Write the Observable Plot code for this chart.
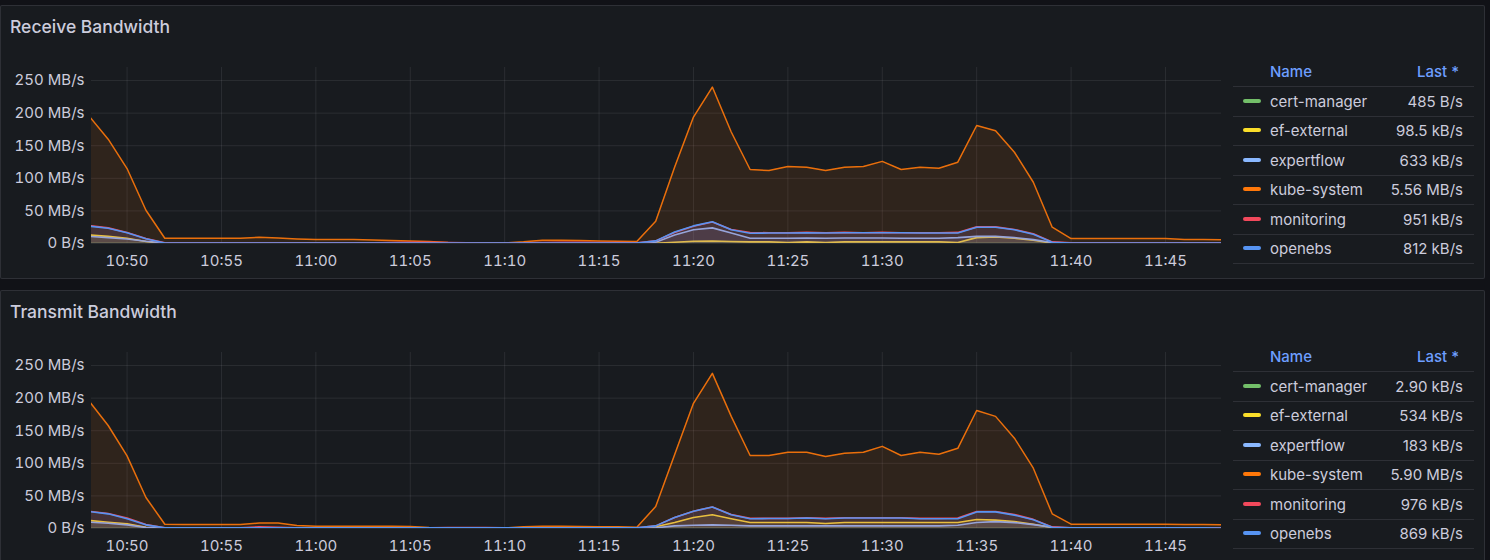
<!DOCTYPE html>
<html><head><meta charset="utf-8">
<script src="https://cdn.jsdelivr.net/npm/d3@7"></script>
<script src="https://cdn.jsdelivr.net/npm/@observablehq/plot@0.6"></script>
<style>
html,body{margin:0;padding:0;background:#111217;width:1490px;height:560px;overflow:hidden;font-family:Inter,"Noto Sans",sans-serif;color:#ccccdc}
.wrap{position:absolute;left:0;width:1490px;height:285px}
.panel{position:absolute;left:0;top:5px;width:1485px;height:274px;box-sizing:border-box;background:#181b1f;border:1px solid rgba(204,204,220,0.12);border-radius:2px}
.title{position:absolute;left:10px;top:17px;font-size:17.5px;font-weight:500;line-height:20px;white-space:nowrap;color:#ccccdc}
.chart{position:absolute;left:0;top:55px}
.chart svg{display:block}
.lg{position:absolute;font-size:15px;line-height:20px;white-space:nowrap;color:#ccccdc}
.hdr{color:#6e9fff;font-weight:500}
.sep{position:absolute;left:1233px;width:241px;height:1px;background:rgba(204,204,220,0.12)}
.chip{position:absolute;left:1243px;width:18px;height:4px;border-radius:2px}
</style></head>
<body>
<div class="wrap" id="rxWrap" style="top:0px"><div class="panel"></div><div class="title">Receive Bandwidth</div><div class="chart" id="rxChart"></div></div>
<div class="wrap" id="txWrap" style="top:285px"><div class="panel"></div><div class="title">Transmit Bandwidth</div><div class="chart" id="txChart"></div></div>
<script>
// ---- data ----
const times = ["10:48","10:49","10:50","10:51","10:52","10:53","10:54","10:55","10:56","10:57",
"10:58","10:59","11:00","11:01","11:02","11:03","11:04","11:05","11:06","11:07",
"11:08","11:09","11:10","11:11","11:12","11:13","11:14","11:15","11:16","11:17",
"11:18","11:19","11:20","11:21","11:22","11:23","11:24","11:25","11:26","11:27",
"11:28","11:29","11:30","11:31","11:32","11:33","11:34","11:35","11:36","11:37",
"11:38","11:39","11:40","11:41","11:42","11:43","11:44","11:45","11:46","11:47","11:48"];
const xTickLabels = ["10:50","10:55","11:00","11:05","11:10","11:15","11:20","11:25","11:30","11:35","11:40","11:45"];
const yTicks = [0,50,100,150,200,250];
const seriesNames = ["cert-manager","ef-external","expertflow","kube-system","monitoring","openebs"];
const seriesColors = ["#73BF69","#FADE2A","#8AB8FF","#FF780A","#F2495C","#5794F2"];

// Receive (MB/s)
const rxCert = [0.0005,0.0005,0.0005,0.0005,0.0005,0.0005,0.0005,0.0005,0.0005,0.0005,0.0005,0.0005,0.0005,0.0005,0.0005,0.0005,0.0005,0.0005,0.0005,0.0005,0.0005,0.0005,0.0005,0.0005,0.0005,0.0005,0.0005,0.0005,0.0005,0.0005,0.0005,0.0005,0.0005,0.0005,0.0005,0.0005,0.0005,0.0005,0.0005,0.0005,0.0005,0.0005,0.0005,0.0005,0.0005,0.0005,0.0005,0.0005,0.0005,0.0005,0.0005,0.0005,0.0005,0.0005,0.0005,0.0005,0.0005,0.0005,0.0005,0.0005,0.000485];
const rxEf = [13,11,8,3,0.2, 0.1,0.1,0.1,0.1,0.1, 0.1,0.1,0.1,0.1,0.1, 0.1,0.1,0.1,0.1,0.1, 0.1,0.1,0.1,0.1,0.1, 0.1,0.1,0.1,0.1,0.1, 0.5,2,3.4,3.8,3, 2.5,2.5,1.5,2.5,1.5, 2.5,2.5,2.5,2.5,2.5, 2.5,1.5,9,10,8, 5,0.5,0.1,0.1,0.1, 0.1,0.1,0.1,0.1,0.1, 0.0985];
const rxExp = [11,9,7,3.5,0.6, 0.6,0.6,0.6,0.6,0.6, 0.6,0.6,0.6,0.6,0.6, 0.6,0.6,0.6,0.6,0.6, 0.6,0.6,0.6,0.6,0.6, 0.6,0.6,0.6,0.6,0.6, 2,13,21,24,16, 8,8,8,8.5,8, 8.5,8.5,8.5,8,8, 8,9,11,11,9, 6,1.5,0.6,0.6,0.6, 0.6,0.6,0.6,0.6,0.6, 0.633];
const rxKube = [195,160,115,51,8, 8,8,8,8,9.5, 8.5,7,6,6,6, 5.5,4.5,4,3,1.5, 0.8,0.5,0.8,2.5,5, 5,4.5,4,3.5,3, 34,117,194,240,171, 113.5,112,118,117,112, 117,118,126,113.5,117, 115.5,124.7,181,173,140, 94,25,7.5,7.5,7.5, 7.5,7.5,7.5,6,6, 5.56];
const rxMon = [27.5,24,17,7.5,1, 1,1,1,1,1.2, 1,1,1,1,1, 1.2,1.5,1.8,1.8,1.5, 1,0.8,0.8,1.2,1.5, 1.8,1.8,1.5,1.5,1, 4,17,26.5,33,21.5, 16.8,16.5,16.5,17,16.5, 17,16.5,17,16.5,16.5, 16.5,17,25.5,25.5,21.5, 15,2.5,1,1,1, 1,1,0.95,0.95,0.95, 0.951];
const rxOpen = [26.5,23.5,16.4,7.2,0.8, 0.8,0.8,0.8,0.8,0.8, 0.8,0.8,0.8,0.8,0.8, 0.8,0.8,0.8,0.8,0.8, 0.8,0.8,0.8,0.8,0.8, 0.8,0.8,0.8,0.8,0.8, 4,17.5,27,33.3,21, 15.8,16,16,16.5,16, 16.5,16.5,16.5,16.5,16, 16,16,25,25,21, 14.3,2,0.8,0.8,0.8, 0.8,0.8,0.8,0.8,0.8, 0.812];
const rxLast = ["485 B/s","98.5 kB/s","633 kB/s","5.56 MB/s","951 kB/s","812 kB/s"];

// Transmit (MB/s)
const txCert = [0.0029,0.0029,0.0029,0.0029,0.0029,0.0029,0.0029,0.0029,0.0029,0.0029,0.0029,0.0029,0.0029,0.0029,0.0029,0.0029,0.0029,0.0029,0.0029,0.0029,0.0029,0.0029,0.0029,0.0029,0.0029,0.0029,0.0029,0.0029,0.0029,0.0029,0.0029,0.0029,0.0029,0.0029,0.0029,0.0029,0.0029,0.0029,0.0029,0.0029,0.0029,0.0029,0.0029,0.0029,0.0029,0.0029,0.0029,0.0029,0.0029,0.0029,0.0029,0.0029,0.0029,0.0029,0.0029,0.0029,0.0029,0.0029,0.0029,0.0029,0.0029];
const txEf = [12.3,9.7,7.2,2,0.5, 0.5,0.5,0.5,0.5,0.5, 0.5,0.5,0.5,0.5,0.5, 0.5,0.5,0.5,0.5,0.5, 0.5,0.5,0.5,0.5,0.5, 0.5,0.5,0.5,0.5,0.5, 2.6,9.2,17,21,15, 9.2,9.2,9.2,9.2,7.7, 9.2,9.2,9.2,9.2,9.2, 9.2,9.2,13.8,12.8,10.5, 6.4,1.5,0.5,0.5,0.5, 0.5,0.5,0.5,0.5,0.5, 0.534];
const txExp = [9.7,8,5.6,1.5,0.3, 0.2,0.2,0.2,0.2,0.2, 0.2,0.2,0.2,0.2,0.2, 0.2,0.2,0.2,0.2,0.2, 0.2,0.2,0.2,0.2,0.2, 0.2,0.2,0.2,0.2,0.2, 1,4,5,5.5,5, 4,4,4,4,4, 4,4,4,4,4, 4,5,9.2,10.6,9, 6,2,0.2,0.2,0.2, 0.2,0.2,0.2,0.2,0.2, 0.183];
const txKube = [195,158,111.5,47.5,6.6, 6,6,6,6,8.5, 8.5,4.5,3.5,3.5,3.5, 3.5,3.5,3,1.5,0.8, 0.6,0.6,0.8,2.5,3.5, 3.5,3,2.5,2.5,2, 33.7,113,192,238,172, 112,112,117,117,110.5, 115.5,117,126,112,117, 114,123,181,172,138.5, 92.5,22.5,6.6,6.6,6.6, 6.6,6.6,6.6,6,6, 5.9];
const txMon = [26.5,23,16,6,1, 1,1,1,1,2.5, 2,1,1,1,1, 1,1,1,1.2,1.5, 1.5,1.5,1.2,1,1, 1,1,1,1,1, 4,17,26.5,33,21.5, 15.5,15.5,15.5,16.5,15.5, 16.5,16.5,16.5,16.5,15.5, 15.5,16,26,26,21.5, 14,2.5,1,1,1, 1,1,1,1,1, 0.976];
const txOpen = [26,22.5,15,5.6,0.9, 0.9,0.9,0.9,0.9,0.9, 0.9,0.9,0.9,0.9,0.9, 0.9,0.9,0.9,0.9,0.9, 0.9,0.9,0.9,0.9,0.9, 0.9,0.9,0.9,0.9,0.9, 4,17,26.6,33,21, 15,15.3,15.3,16,15, 16,16,16,16,15, 15,15,25.5,25.5,20.5, 13.3,2,0.9,0.9,0.9, 0.9,0.9,0.9,0.9,0.9, 0.869];
const txLast = ["2.90 kB/s","534 kB/s","183 kB/s","5.90 MB/s","976 kB/s","869 kB/s"];

// ---- drawing ----
const toDate = s => { const [h, m] = s.split(":").map(Number); return new Date(Date.UTC(2024, 0, 1, h, m)); };
const xDomain = [new Date(Date.UTC(2024,0,1,10,48,7)), new Date(Date.UTC(2024,0,1,11,47,58))];
const fmt = d3.utcFormat("%H:%M");

function drawChart(el, seriesValues) {
  const marks = [];
  seriesValues.forEach((vals, i) => {
    const rows = times.map((t, j) => ({t: toDate(t), v: vals[j]}));
    marks.push(Plot.areaY(rows, {x: "t", y: "v", fill: seriesColors[i], fillOpacity: 0.1, clip: true}));
    marks.push(Plot.lineY(rows, {x: "t", y: "v", stroke: seriesColors[i], strokeWidth: i === 3 ? 1.5 : 1.6, strokeOpacity: i === 3 ? 0.9 : 1, clip: true}));
  });
  const svg = Plot.plot({
    width: 1225, height: 220,
    marginLeft: 91, marginRight: 4, marginTop: 12, marginBottom: 32,
    style: {background: "none", color: "#ccccdc", fontFamily: "Inter, 'Noto Sans', sans-serif", fontSize: "15px"},
    x: {type: "utc", domain: xDomain, ticks: xTickLabels.map(toDate), tickFormat: fmt, tickSize: 0, tickPadding: 12, label: null, grid: true},
    y: {domain: [0, 270], ticks: yTicks, tickFormat: d => d === 0 ? "0 B/s" : d + " MB/s", tickSize: 0, tickPadding: 7, label: null, grid: true},
    marks
  });
  el.appendChild(svg);
}

function drawLegend(wrap, lastVals) {
  const rowH = 29.55;
  const add = (cls, style, text) => { const d = document.createElement("div"); d.className = cls; d.setAttribute("style", style); if (text != null) d.textContent = text; wrap.appendChild(d); };
  add("lg hdr", "left:1270px;top:62px", "Name");
  add("lg hdr", "right:31px;top:62px", "Last *");
  for (let k = 0; k <= 6; k++) add("sep", `top:${(86 + rowH * k).toFixed(1)}px`);
  seriesNames.forEach((n, k) => {
    const c = 100.7 + rowH * k;
    add("chip", `top:${(c - 2).toFixed(1)}px;background:${seriesColors[k]}`);
    add("lg", `left:1270px;top:${(c - 9).toFixed(1)}px`, n);
    add("lg", `right:27px;top:${(c - 9).toFixed(1)}px`, lastVals[k]);
  });
}

drawChart(document.getElementById("rxChart"), [rxCert, rxEf, rxExp, rxKube, rxMon, rxOpen]);
drawChart(document.getElementById("txChart"), [txCert, txEf, txExp, txKube, txMon, txOpen]);
drawLegend(document.getElementById("rxWrap"), rxLast);
drawLegend(document.getElementById("txWrap"), txLast);
</script>
</body></html>
